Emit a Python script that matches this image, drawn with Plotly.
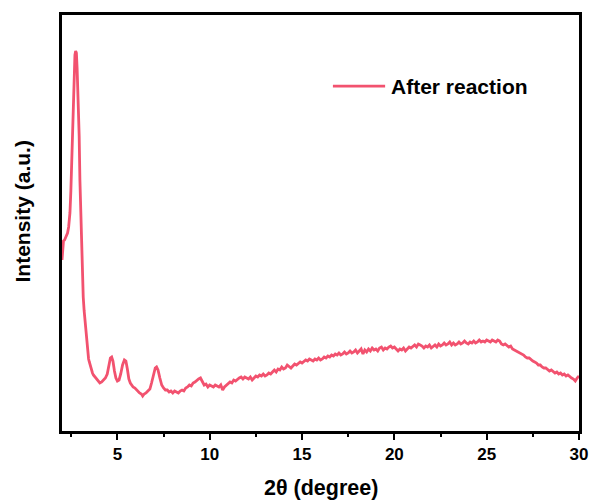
import plotly.graph_objects as go

two_theta = [
    2.00, 2.04, 2.08, 2.14, 2.22, 2.30, 2.36, 2.43, 2.48, 2.52, 2.57, 2.61, 2.66, 2.70, 2.74, 2.78,
    2.82, 2.88, 2.93, 2.97, 3.02, 3.06, 3.10, 3.15, 3.20, 3.25, 3.30, 3.34, 3.40, 3.44, 3.48, 3.54,
    3.60, 3.65, 3.70, 3.80, 3.90, 4.00, 4.05, 4.15, 4.25, 4.35, 4.45, 4.55, 4.62, 4.69, 4.76, 4.84,
    4.92, 5.00, 5.09, 5.18, 5.28, 5.38, 5.46, 5.54, 5.62, 5.70, 5.77, 5.85, 5.95, 6.04, 6.12, 6.20,
    6.30, 6.37, 6.45, 6.55, 6.65, 6.76, 6.85, 6.95, 7.05, 7.12, 7.20, 7.30, 7.40, 7.50, 7.60,
    7.7, 7.8, 7.9, 8.0, 8.1, 8.2, 8.3, 8.4, 8.5, 8.6, 8.7, 8.8, 8.9, 9.0, 9.1, 9.2, 9.3, 9.4, 9.5,
    9.6, 9.7, 9.8, 9.9, 10.0, 10.1, 10.2, 10.3, 10.4, 10.5, 10.6, 10.7, 10.8, 10.9, 11.0, 11.1,
    11.2, 11.3, 11.4, 11.5, 11.6, 11.7, 11.8, 11.9, 12.0, 12.1, 12.2, 12.3, 12.4, 12.5, 12.6, 12.7,
    12.8, 12.9, 13.0, 13.1, 13.2, 13.3, 13.4, 13.5, 13.6, 13.7, 13.8, 13.9, 14.0, 14.1, 14.2, 14.3,
    14.4, 14.5, 14.6, 14.7, 14.8, 14.9, 15.0, 15.1, 15.2, 15.3, 15.4, 15.5, 15.6, 15.7, 15.8, 15.9,
    16.0, 16.1, 16.2, 16.3, 16.4, 16.5, 16.6, 16.7, 16.8, 16.9, 17.0, 17.1, 17.2, 17.3, 17.4, 17.5,
    17.6, 17.7, 17.8, 17.9, 18.0, 18.1, 18.2, 18.3, 18.4, 18.5, 18.6, 18.7, 18.8, 18.9, 19.0, 19.1,
    19.2, 19.3, 19.4, 19.5, 19.6, 19.7, 19.8, 19.9, 20.0, 20.1, 20.2, 20.3, 20.4, 20.5, 20.6, 20.7,
    20.8, 20.9, 21.0, 21.1, 21.2, 21.3, 21.4, 21.5, 21.6, 21.7, 21.8, 21.9, 22.0, 22.1, 22.2, 22.3,
    22.4, 22.5, 22.6, 22.7, 22.8, 22.9, 23.0, 23.1, 23.2, 23.3, 23.4, 23.5, 23.6, 23.7, 23.8, 23.9,
    24.0, 24.1, 24.2, 24.3, 24.4, 24.5, 24.6, 24.7, 24.8, 24.9, 25.0, 25.1, 25.2, 25.3, 25.4, 25.5,
    25.6, 25.7, 25.8, 25.9, 26.0, 26.1, 26.2, 26.3, 26.4, 26.5, 26.6, 26.7, 26.8, 26.9, 27.0, 27.1,
    27.2, 27.3, 27.4, 27.5, 27.6, 27.7, 27.8, 27.9, 28.0, 28.1, 28.2, 28.3, 28.4, 28.5, 28.6, 28.7,
    28.8, 28.9, 29.0, 29.1, 29.2, 29.3, 29.4, 29.5, 29.6, 29.7, 29.8, 29.9, 30.0,
]

intensity = [
    171, 186, 190, 191, 194, 198, 204, 218, 240, 268, 300, 334, 362, 376, 380, 378,
    362, 334, 295, 251, 214, 184, 157, 134, 120, 108, 97, 88, 80, 72, 69, 64,
    61, 58, 56, 54, 51, 49, 48, 49, 51, 53, 57, 66, 73, 74, 70, 60,
    53, 50, 51, 57, 66, 71, 70, 62, 52, 48, 46, 44, 43, 41, 40, 38,
    37, 35, 37, 38, 40, 42, 48, 57, 63, 64, 61, 53, 46, 43, 41,
    41, 39, 40, 38, 40, 39, 38, 40, 41, 40, 43, 44, 46, 45, 48, 49, 51, 52, 53,
    49, 46, 47, 44, 46, 45, 44, 46, 45, 44, 46, 41, 44, 46, 47, 49,
    48, 51, 50, 52, 53, 54, 52, 54, 53, 52, 54, 51, 53, 55, 54, 56,
    55, 57, 55, 56, 58, 57, 59, 61, 59, 62, 61, 64, 62, 63, 66, 64,
    63, 65, 67, 66, 68, 69, 68, 70, 71, 70, 72, 71, 70, 72, 71, 73,
    71, 72, 74, 73, 75, 74, 76, 75, 77, 76, 78, 76, 77, 79, 77, 78,
    80, 78, 79, 81, 78, 80, 82, 77, 81, 79, 82, 80, 83, 81, 82, 80,
    83, 84, 81, 83, 82, 84, 85, 83, 84, 82, 80, 82, 81, 83, 80, 82,
    84, 83, 85, 86, 84, 87, 86, 85, 83, 85, 84, 86, 83, 85, 86, 84,
    87, 85, 86, 88, 86, 87, 89, 86, 88, 86, 87, 89, 87, 88, 90, 88,
    87, 89, 88, 90, 88, 89, 91, 89, 90, 89, 91, 90, 89, 91, 90, 89,
    91, 90, 87, 86, 87, 85, 84, 85, 82, 81, 80, 79, 78, 77, 76, 74,
    73, 73, 71, 70, 69, 68, 66, 66, 64, 63, 63, 61, 60, 61, 59, 58,
    59, 57, 58, 56, 57, 55, 56, 54, 53, 52, 50, 53, 55,
]

x_ticks = [5, 10, 15, 20, 25, 30]
series_name = "After reaction"
x_title = "2θ (degree)"
y_title = "Intensity (a.u.)"

line_color = "#F2526F"
font_family = "Arial"

fig = go.Figure()
fig.add_trace(go.Scatter(
    x=two_theta, y=intensity, mode="lines", name=series_name,
    line=dict(color=line_color, width=2.8),
    showlegend=False,
))

fig.update_layout(
    width=593, height=502,
    margin=dict(l=62, r=14, t=15, b=71, autoexpand=False),
    paper_bgcolor="white", plot_bgcolor="white",
    font=dict(family=font_family, color="black"),
    showlegend=False,
)

# manual legend (long line sample like the reference)
fig.add_shape(type="line", xref="paper", yref="paper",
              x0=0.524, x1=0.625, y0=0.829, y1=0.829,
              line=dict(color=line_color, width=2.8))
fig.add_annotation(xref="paper", yref="paper", x=0.632, y=0.829,
                   xanchor="left", yanchor="middle", showarrow=False,
                   text="<b>" + series_name + "</b>",
                   font=dict(size=21, family=font_family, color="black"))

# axis titles
fig.add_annotation(xref="paper", yref="paper", x=0.5, y=-0.137,
                   xanchor="center", yanchor="middle", showarrow=False,
                   text="<b>" + x_title + "</b>",
                   font=dict(size=21.5, family=font_family, color="black"))
fig.add_annotation(xref="paper", yref="paper", x=-0.076, y=0.527,
                   xanchor="center", yanchor="middle", showarrow=False, textangle=-90,
                   text="<b>" + y_title + "</b>",
                   font=dict(size=21, family=font_family, color="black"))

fig.update_xaxes(
    range=[2, 30], automargin=False,
    tickvals=x_ticks, ticktext=["<b>%d</b>" % t for t in x_ticks],
    ticks="outside", ticklen=6, tickwidth=2, tickcolor="black",
    minor=dict(ticks="outside", ticklen=3, tickwidth=2, tickcolor="black", dtick=2.5, tick0=0),
    showline=True, linecolor="black", linewidth=2.5, mirror=True,
    showgrid=False, zeroline=False,
    tickfont=dict(size=17, family=font_family, color="black"),
)

fig.update_yaxes(
    range=[0, 416], automargin=False,
    showticklabels=False, ticks="",
    showline=True, linecolor="black", linewidth=2.5, mirror=True,
    showgrid=False, zeroline=False,
)

# remove the page's default 8px body margin so the figure fills the window exactly
fig.write_html("out.html",
               config={"displayModeBar": False},
               post_script="document.body.style.margin='0';document.body.style.overflow='hidden';")
